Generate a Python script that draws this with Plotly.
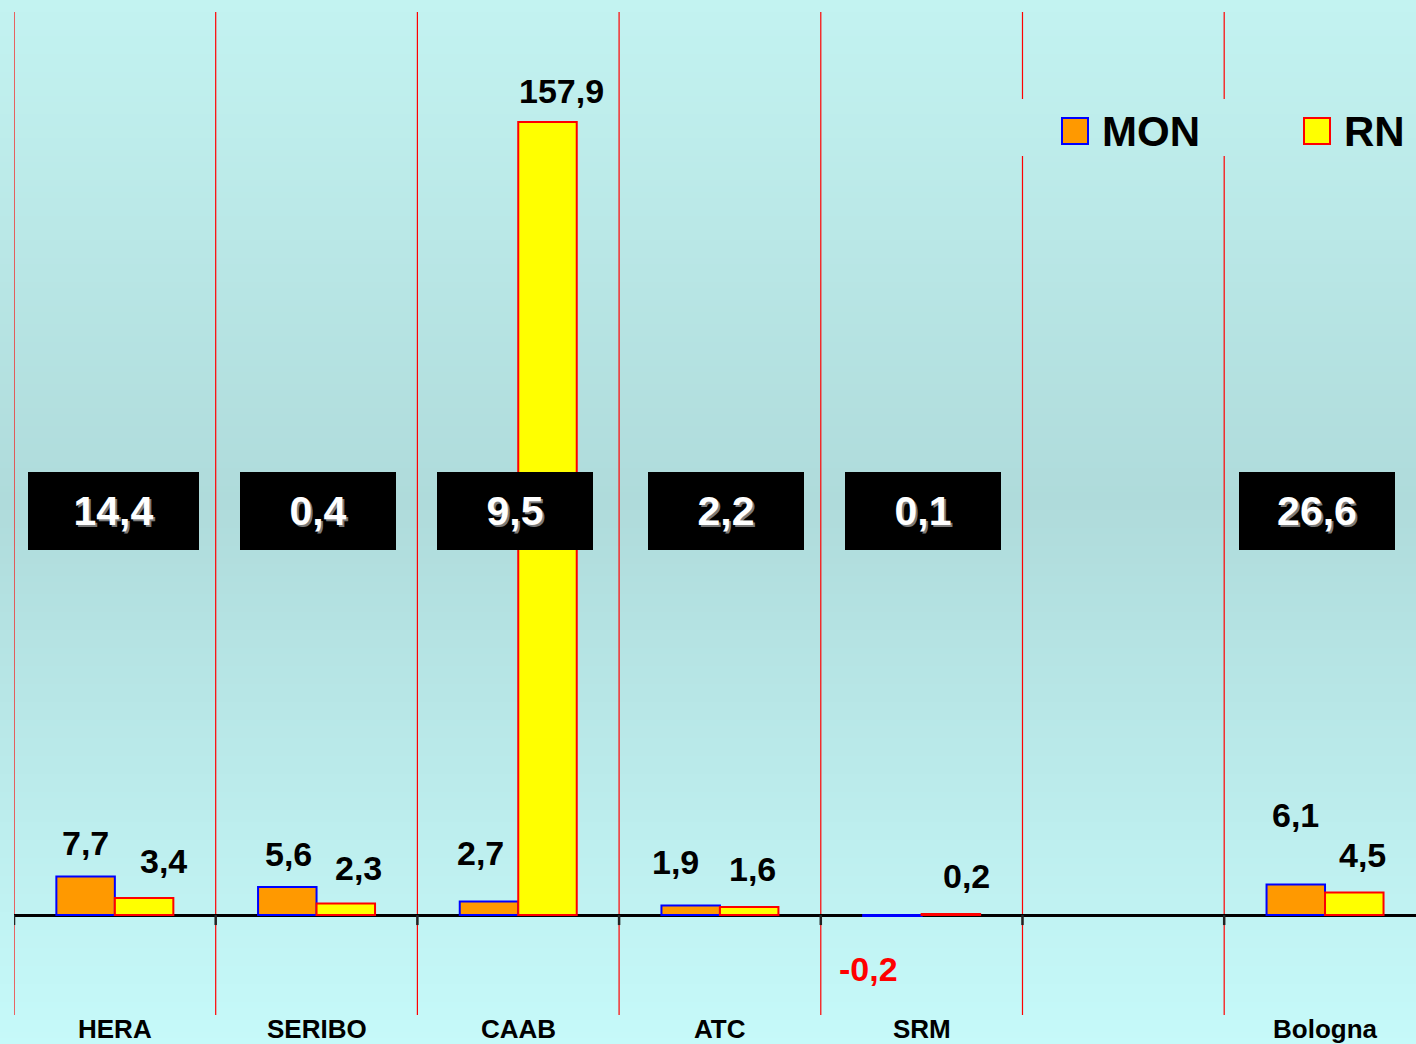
import plotly.graph_objects as go

# ---------------- data ----------------
categories = ["HERA", "SERIBO", "CAAB", "ATC", "SRM", "", "Bologna"]
mon_values = [7.7, 5.6, 2.7, 1.9, -0.2, None, 6.1]
rn_values = [3.4, 2.3, 157.9, 1.6, 0.2, None, 4.5]
box_values = [14.4, 0.4, 9.5, 2.2, 0.1, None, 26.6]
series_names = ["MON", "RN"]


def fmt(v):
    return f"{v:.1f}".replace(".", ",")


x_pos = list(range(len(categories)))

# ---------------- layout geometry / style ----------------
W, H = 1416, 1044
ML, MR, MT, MB = 14, 0, 12, 29
PW, PH = W - ML - MR, H - MT - MB


def px(x):
    return (x - ML) / PW


def py(y):
    return (H - MB - y) / PH


FONT = "Liberation Sans, Arial, sans-serif"
MON_FILL, MON_LINE = "#ff9900", "#0000ff"
RN_FILL, RN_LINE = "#ffff00", "#ff0000"

# label offsets (pixels) relative to bar top
mon_dx = [0, 1, -9, -15, -24, 0, 0]
mon_dy = [33, 33, 48, 44, -53, 0, 69]
rn_dx = [19, 13, 14, 3, 16, 0, 8]
rn_dy = [37, 36, 31, 38, 38, 0, 37]
box_dx = [-1, 1.5, -3, 6.5, 1.5, 0, -8.5]
box_w = [171, 156, 156, 156, 156, 156, 156]

fig = go.Figure()
fig.add_trace(go.Bar(x=x_pos, y=mon_values, name=series_names[0],
                     marker=dict(color=MON_FILL, line=dict(color=MON_LINE, width=2))))
fig.add_trace(go.Bar(x=x_pos, y=rn_values, name=series_names[1],
                     marker=dict(color=RN_FILL, line=dict(color=RN_LINE, width=2))))

shapes = []
# background gradient (stripes)
stops = [(0, (195, 243, 241)), (500, (175, 219, 219)), (1044, (198, 250, 250))]


def grad(y):
    for (y0, c0), (y1, c1) in zip(stops[:-1], stops[1:]):
        if y0 <= y <= y1:
            t = (y - y0) / (y1 - y0)
            return tuple(round(a + (b - a) * t) for a, b in zip(c0, c1))
    return stops[-1][1]


step = 6
for y in range(0, H, step):
    c = grad(y + step / 2)
    shapes.append(dict(type="rect", xref="paper", yref="paper", layer="below",
                       x0=px(0), x1=px(W), y0=py(y + step + 0.5), y1=py(y),
                       fillcolor="rgb(%d,%d,%d)" % c, line=dict(width=0)))

# category separators
bounds = [i - 0.5 for i in range(len(categories) + 1)]
gap_top, gap_bot = py(99), py(156)
for b in bounds:
    segs = [(0, 1)] if b < 4.5 else [(0, gap_bot), (gap_top, 1)]
    for y0, y1 in segs:
        shapes.append(dict(type="line", xref="x", yref="paper", layer="between",
                           x0=b, x1=b, y0=y0, y1=y1,
                           line=dict(color="#ff0000", width=1.2)))
    # tick marks below the zero line
    shapes.append(dict(type="line", xref="x", yref="y", ysizemode="pixel", yanchor=0,
                       x0=b, x1=b, y0=0, y1=-10, layer="above",
                       line=dict(color="#222222", width=2.5)))

# custom legend squares
leg = [(1062, MON_FILL, MON_LINE), (1304, RN_FILL, RN_LINE)]
for x0, f, l in leg:
    shapes.append(dict(type="rect", xref="paper", yref="paper", layer="above",
                       x0=px(x0), x1=px(x0 + 26), y0=py(144), y1=py(118),
                       fillcolor=f, line=dict(color=l, width=2)))

annotations = []
for nm, xl in zip(series_names, [1100, 1342]):
    annotations.append(dict(text=nm, xref="paper", yref="paper", x=px(xl), y=py(131),
                            xanchor="left", yanchor="middle", showarrow=False,
                            font=dict(family=FONT, size=42, color="black", weight="bold")))

# category labels
for i, c in zip(x_pos, categories):
    if c:
        annotations.append(dict(text=c, x=i, y=py(1029), xref="x", yref="paper",
                                showarrow=False, xanchor="center", yanchor="middle",
                                font=dict(family=FONT, size=26, weight="bold", color="black")))

# value labels
for i in x_pos:
    for vals, off, dxs, dys in ((mon_values, -0.145, mon_dx, mon_dy),
                                (rn_values, 0.145, rn_dx, rn_dy)):
        v = vals[i]
        if v is None:
            continue
        annotations.append(dict(text=fmt(v), x=i + off, y=v, xref="x", yref="y",
                                xshift=dxs[i], yshift=dys[i], showarrow=False,
                                xanchor="center", yanchor="middle",
                                font=dict(family=FONT, size=34, weight="bold",
                                          color="#ff0000" if v < 0 else "black")))
    v = box_values[i]
    if v is not None:
        annotations.append(dict(text=fmt(v), x=i, y=py(511), xref="x", yref="paper",
                                xshift=box_dx[i], showarrow=False, xanchor="center",
                                yanchor="middle", bgcolor="black", borderpad=0,
                                borderwidth=0, width=box_w[i], height=78,
                                font=dict(family=FONT, size=41, weight="bold", color="white",
                                          shadow="2px 2px 0px #7a7a7a")))

fig.update_layout(
    width=W, height=H,
    margin=dict(l=ML, r=MR, t=MT, b=MB, pad=0),
    paper_bgcolor="rgb(196,246,246)",
    plot_bgcolor="rgba(0,0,0,0)",
    barmode="group", bargap=0.42, bargroupgap=0,
    showlegend=False,
    shapes=shapes, annotations=annotations,
    font=dict(family=FONT),
)
fig.update_xaxes(range=[-0.5, 6.451], tickmode="array", tickvals=x_pos, ticktext=categories,
                 showticklabels=False,
                 showgrid=False, zeroline=False, showline=False, ticks="", automargin=False)
fig.update_yaxes(range=[-19.9, 179.8], showgrid=False, showticklabels=False,
                 zeroline=True, zerolinecolor="black", zerolinewidth=2.5, automargin=False)

fig.write_html("out.html", config={"displayModeBar": False},
               post_script="document.body.style.margin='0';document.body.style.overflow='hidden';")
